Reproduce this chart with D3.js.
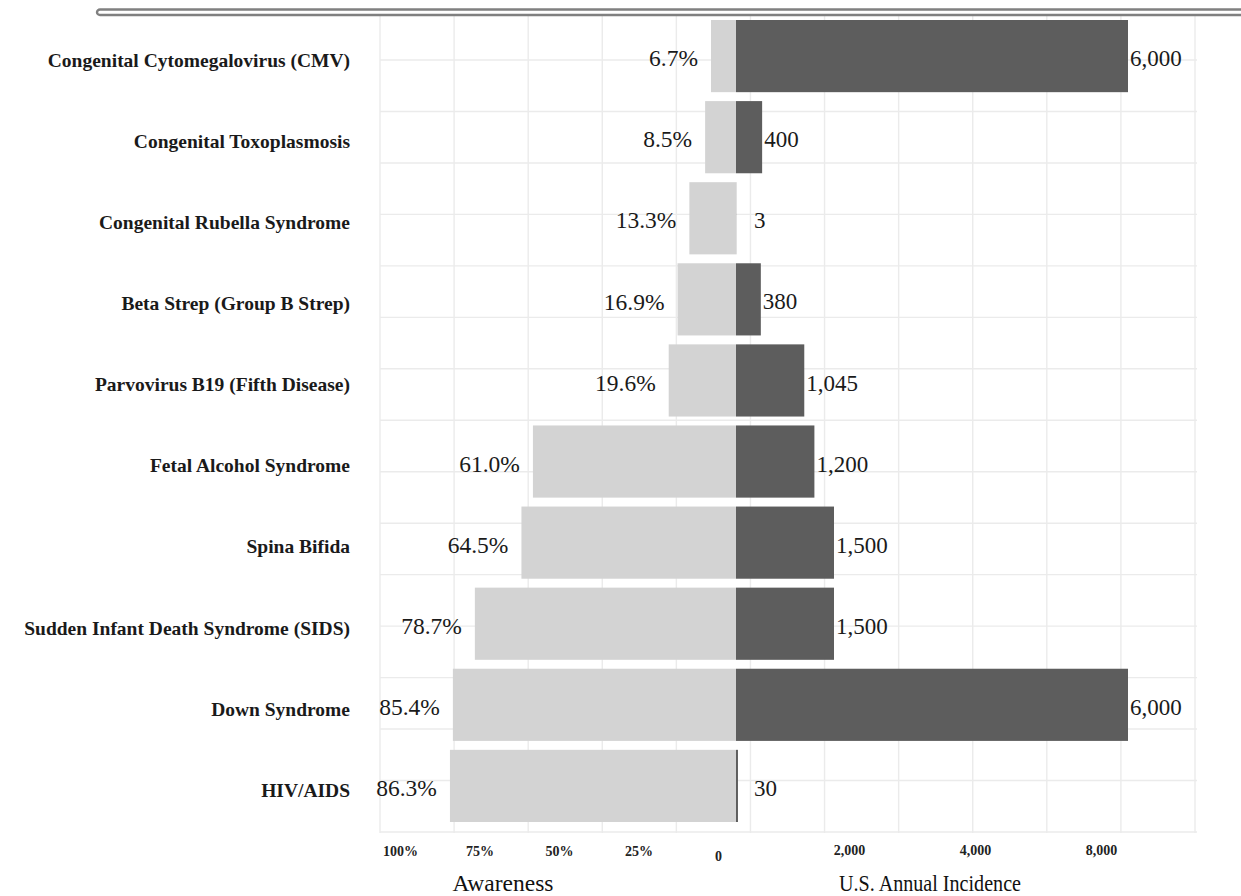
<!DOCTYPE html>
<html>
<head>
<meta charset="utf-8">
<script src="https://cdn.jsdelivr.net/npm/d3@7"></script>
<style>
  body { margin: 0; background: #fff; }
  svg { display: block; }
</style>
</head>
<body>
<div id="chart"></div>
<script>
// Chart data.
var categories = [
    "Congenital Cytomegalovirus (CMV)",
    "Congenital Toxoplasmosis",
    "Congenital Rubella Syndrome",
    "Beta Strep (Group B Strep)",
    "Parvovirus B19 (Fifth Disease)",
    "Fetal Alcohol Syndrome",
    "Spina Bifida",
    "Sudden Infant Death Syndrome (SIDS)",
    "Down Syndrome",
    "HIV/AIDS"
];
var awareness = [6.7, 8.5, 13.3, 16.9, 19.6, 61.0, 64.5, 78.7, 85.4, 86.3];
var incidence = [6000, 400, 3, 380, 1045, 1200, 1500, 1500, 6000, 30];

// Tick labels of the two bottom axes.
var awarenessTicks = [100, 75, 50, 25, 0];
var incidenceTicks = ["2,000", "4,000", "8,000"];

var w = 1241,
    h = 896,
    mid = 736,
    serif = "'Liberation Serif', 'Times New Roman', serif";

var rows = categories.map(function (c, i) {
    return { name: c, aware: awareness[i], inc: incidence[i] };
});

var svg = d3.select("#chart")
    .append("svg")
    .attr("width", w)
    .attr("height", h);

// Scales.
var y = d3.scaleBand()
    .domain(categories)
    .range([20, 822])
    .paddingInner(0.11)
    .paddingOuter(0);

var xAware = d3.scaleLinear().domain([0, 100]).range([733, 405]);
var xInc = d3.scaleLinear().domain([0, 6000]).range([mid, 1128]);

// Background grid of the panel.
var gridX = d3.scaleLinear().domain([0, 11]).range([380, 1195]);
var gridY = d3.scaleLinear().domain([0, 15]).range([60, 832]);

var grid = svg.append("g")
    .attr("stroke", "#ebebeb")
    .attr("stroke-width", 1.4);

grid.selectAll("line.v")
    .data(gridX.ticks(11))
    .enter()
    .append("line")
    .attr("class", "v")
    .attr("x1", function (d) { return gridX(d); })
    .attr("x2", function (d) { return gridX(d); })
    .attr("y1", 14)
    .attr("y2", 833);

grid.selectAll("line.h")
    .data(gridY.ticks(15))
    .enter()
    .append("line")
    .attr("class", "h")
    .attr("x1", 380)
    .attr("x2", 1197)
    .attr("y1", function (d) { return gridY(d); })
    .attr("y2", function (d) { return gridY(d); });

// Awareness bars (light, to the left).
svg.selectAll("rect.aware")
    .data(rows)
    .enter()
    .append("rect")
    .attr("class", "aware")
    .attr("x", function (d) { return xAware(d.aware); })
    .attr("y", function (d) { return y(d.name); })
    .attr("width", function (d) { return mid - xAware(d.aware); })
    .attr("height", y.bandwidth())
    .style("fill", "#d3d3d3");

// Incidence bars (dark, to the right).
svg.selectAll("rect.inc")
    .data(rows)
    .enter()
    .append("rect")
    .attr("class", "inc")
    .attr("x", mid)
    .attr("y", function (d) { return y(d.name); })
    .attr("width", function (d) { return xInc(d.inc) - mid; })
    .attr("height", y.bandwidth())
    .style("fill", "#5d5d5d");

// Category labels.
svg.selectAll("text.cat")
    .data(rows)
    .enter()
    .append("text")
    .attr("class", "cat")
    .attr("x", 350)
    .attr("y", function (d) { return y(d.name) + y.bandwidth() / 2 + 4; })
    .attr("dy", "0.35em")
    .attr("text-anchor", "end")
    .style("font-family", serif)
    .style("font-weight", "bold")
    .style("font-size", "19.5px")
    .style("fill", "#1a1a1a")
    .text(function (d) { return d.name; });

// Awareness value labels.
svg.selectAll("text.awareLabel")
    .data(rows)
    .enter()
    .append("text")
    .attr("class", "awareLabel")
    .attr("x", function (d) { return xAware(d.aware) - 13; })
    .attr("y", function (d) { return y(d.name) + y.bandwidth() / 2 + 2; })
    .attr("dy", "0.35em")
    .attr("text-anchor", "end")
    .style("font-family", serif)
    .style("font-size", "23.5px")
    .style("fill", "#1a1a1a")
    .text(function (d) { return d.aware.toFixed(1) + "%"; });

// Incidence value labels.
svg.selectAll("text.incLabel")
    .data(rows)
    .enter()
    .append("text")
    .attr("class", "incLabel")
    .attr("x", function (d) { return Math.max(xInc(d.inc) + 2, 754); })
    .attr("y", function (d) { return y(d.name) + y.bandwidth() / 2 + 2; })
    .attr("dy", "0.35em")
    .style("font-family", serif)
    .style("font-size", "23px")
    .style("fill", "#1a1a1a")
    .text(function (d) { return d3.format(",")(d.inc); });

// Bottom axes.
var awareAxis = d3.scaleLinear().domain([100, 0]).range([400, 718]);
var incAxis = d3.scalePoint().domain(incidenceTicks).range([849, 1101]);

var gA = svg.append("g")
    .attr("transform", "translate(0,846)")
    .call(d3.axisBottom(awareAxis)
        .tickValues(awarenessTicks)
        .tickFormat(function (d) { return d ? d + "%" : "0"; })
        .tickSize(0)
        .tickPadding(0));

var gI = svg.append("g")
    .attr("transform", "translate(0,845)")
    .call(d3.axisBottom(incAxis).tickSize(0).tickPadding(0));

[gA, gI].forEach(function (g) {
    g.select(".domain").remove();
    g.selectAll("text")
        .style("font-family", serif)
        .style("font-weight", "bold")
        .style("font-size", "14px")
        .style("fill", "#222");
});
gA.selectAll(".tick text")
    .filter(function (d) { return d === 0; })
    .attr("y", 5);

// Axis titles.
svg.append("text")
    .attr("x", 503)
    .attr("y", 891)
    .attr("text-anchor", "middle")
    .style("font-family", serif)
    .style("font-size", "23.5px")
    .style("fill", "#111")
    .text("Awareness");

svg.append("text")
    .attr("x", 930)
    .attr("y", 891)
    .attr("text-anchor", "middle")
    .attr("textLength", 182)
    .attr("lengthAdjust", "spacingAndGlyphs")
    .style("font-family", serif)
    .style("font-size", "23.5px")
    .style("fill", "#111")
    .text("U.S. Annual Incidence");

// Rounded double rule across the top.
svg.append("rect")
    .attr("x", 97)
    .attr("y", 9.5)
    .attr("width", 1200)
    .attr("height", 5.5)
    .attr("rx", 3)
    .style("fill", "#fff")
    .style("stroke", "#808080")
    .style("stroke-width", 2.4);
</script>
</body>
</html>
